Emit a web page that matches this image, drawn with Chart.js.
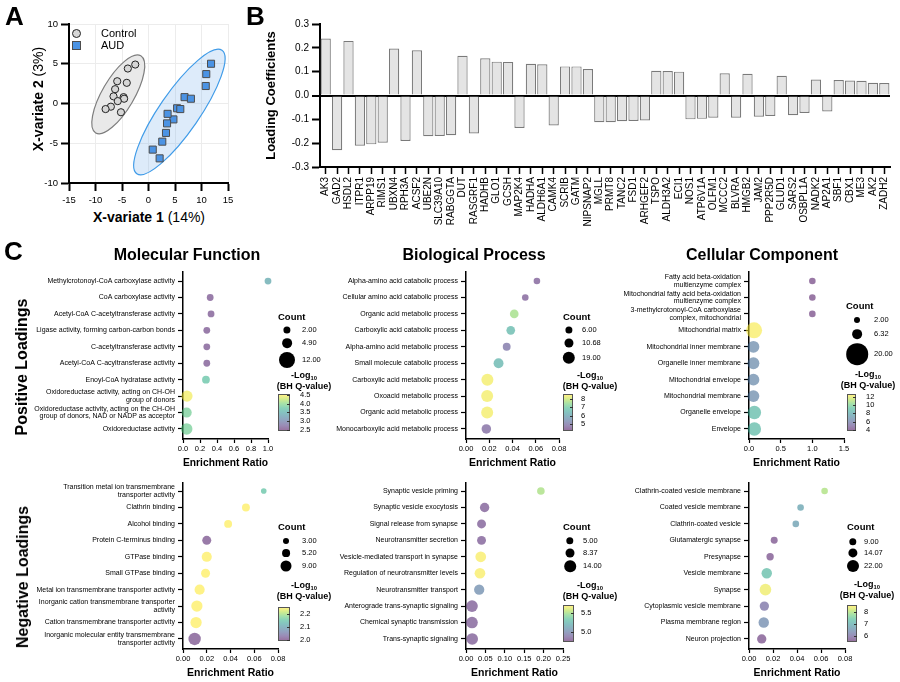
<!DOCTYPE html>
<html>
<head>
<meta charset="utf-8">
<title>PLS-DA loadings and GO enrichment</title>
<script src="https://cdn.jsdelivr.net/npm/chart.js@4.4.1/dist/chart.umd.min.js"></script>
<style>
  body { margin: 0; background: #fff; }
  #page { position: relative; width: 900px; height: 682px; overflow: hidden;
          font-family: 'Liberation Sans', Arial, sans-serif; color: #000; }
  #page canvas { position: absolute; }
  .t { position: absolute; white-space: nowrap; line-height: 1; }
  .t sub { font-size: 65%; vertical-align: -2px; line-height: 0; }
  .dot { position: absolute; border-radius: 50%; background: #000; transform: translate(-50%, -50%); }
  .cbar { position: absolute; box-sizing: border-box; border: 1px solid #555; }
  .ctick { position: absolute; height: 1px; width: 3px; background: #333; }
</style>
</head>
<body>
<div id="page"></div>
<script>
// ---------- Panel A: PLS-DA scores ----------
const controlX = [-2.5, -3.9, -4.1, -5.9, -6.3, -6.6, -4.7, -4.6, -5.8, -7.1, -8.1, -5.2];
const controlY = [4.9, 4.4, 2.6, 2.8, 1.8, 0.9, 0.8, 0.6, 0.3, -0.4, -0.7, -1.1];
const audX = [11.8, 10.9, 10.8, 6.8, 8.0, 5.4, 6.0, 4.7, 3.6, 3.5, 3.3, 2.6, 0.8, 2.1];
const audY = [5.0, 3.7, 2.2, 0.8, 0.6, -0.6, -0.7, -2.0, -1.3, -2.5, -3.7, -4.8, -5.8, -6.9];

// ---------- Panel B: loading coefficients ----------
const genes = ['AK3', 'GAD2', 'HSDL2', 'ITPR1', 'ARPP19', 'RIMS1', 'UBXN4', 'RPH3A', 'ACSF2', 'UBE2N',
  'SLC39A10', 'RABGGTA', 'DUT', 'RASGRF1', 'HADHB', 'GLO1', 'GCSH', 'MAP2K4', 'HADHA', 'ALDH6A1',
  'CAMK4', 'SCRIB', 'GATM', 'NIPSNAP2', 'MGLL', 'PRMT8', 'TANC2', 'FSD1', 'ARHGEF2', 'TSPO',
  'ALDH3A2', 'ECI1', 'NOS1', 'ATP6V1A', 'OLFM1', 'MCCC2', 'BLVRA', 'HMGB2', 'JAM2', 'PPP2R5D',
  'GLUD1', 'SARS2', 'OSBPL1A', 'NADK2', 'AP2A1', 'SBF1', 'CBX1', 'ME3', 'AK2', 'ZADH2'];
const loadings = [0.239, -0.230, 0.229, -0.211, -0.205, -0.198, 0.197, -0.191, 0.190, -0.171,
  -0.170, -0.167, 0.167, -0.159, 0.156, 0.142, 0.141, -0.136, 0.133, 0.131,
  -0.126, 0.122, 0.122, 0.111, -0.112, -0.112, -0.108, -0.107, -0.105, 0.104,
  0.103, 0.100, -0.100, -0.098, -0.093, 0.093, -0.093, 0.091, -0.089, -0.086,
  0.083, -0.083, -0.073, 0.067, -0.067, 0.065, 0.063, 0.062, 0.053, 0.052];

// ---------- Panel C: enrichment (positive loadings) ----------
const mfPosTerms = ['Methylcrotonoyl-CoA carboxylase activity', 'CoA carboxylase activity',
  'Acetyl-CoA C-acetyltransferase activity', 'Ligase activity, forming carbon-carbon bonds',
  'C-acetyltransferase activity', 'Acetyl-CoA C-acyltransferase activity', 'Enoyl-CoA hydratase activity',
  'Oxidoreductase activity, acting on CH-OH\ngroup of donors',
  'Oxidoreductase activity, acting on the CH-OH\ngroup of donors, NAD or NADP as acceptor',
  'Oxidoreductase activity'];
const mfPosRatio = [1.0, 0.32, 0.33, 0.28, 0.28, 0.28, 0.27, 0.047, 0.043, 0.043];
const mfPosCount = [2, 2, 2, 2, 2, 2, 4, 11, 9, 12];
const mfPosLogQ = [3.4, 2.55, 2.55, 2.55, 2.55, 2.55, 3.75, 4.5, 3.9, 3.9];
const mfPosQRange = [2.44, 4.55];
const mfPosCountKeys = [2.00, 4.90, 12.00];
const mfPosQTicks = [4.5, 4.0, 3.5, 3.0, 2.5];

const bpPosTerms = ['Alpha-amino acid catabolic process', 'Cellular amino acid catabolic process',
  'Organic acid metabolic process', 'Carboxylic acid catabolic process', 'Alpha-amino acid metabolic process',
  'Small molecule catabolic process', 'Carboxylic acid metabolic process', 'Oxoacid metabolic process',
  'Organic acid metabolic process', 'Monocarboxylic acid metabolic process'];
const bpPosRatio = [0.061, 0.051, 0.0415, 0.0385, 0.035, 0.028, 0.0184, 0.0182, 0.0182, 0.0175];
const bpPosCount = [6, 6, 11, 11, 9, 14, 19, 19, 19, 13];
const bpPosLogQ = [4.5, 4.5, 7.7, 6.6, 4.9, 6.5, 8.5, 8.5, 8.5, 4.7];
const bpPosQRange = [4.2, 8.6];
const bpPosCountKeys = [6.00, 10.68, 19.00];
const bpPosQTicks = [8, 7, 6, 5];

const ccPosTerms = ['Fatty acid beta-oxidation\nmultienzyme complex',
  'Mitochondrial fatty acid beta-oxidation\nmultienzyme complex',
  '3-methylcrotonoyl-CoA carboxylase\ncomplex, mitochondrial', 'Mitochondrial matrix',
  'Mitochondrial inner membrane', 'Organelle inner membrane', 'Mitochondrial envelope',
  'Mitochondrial membrane', 'Organelle envelope', 'Envelope'];
const ccPosRatio = [1.0, 1.0, 1.0, 0.08, 0.07, 0.07, 0.07, 0.07, 0.085, 0.085];
const ccPosCount = [2, 2, 2, 20, 12, 12, 12, 12, 15, 15];
const ccPosLogQ = [4.0, 4.0, 4.0, 12.5, 6.5, 6.5, 6.5, 6.5, 8.8, 8.8];
const ccPosQRange = [3.8, 12.6];
const ccPosCountKeys = [2.00, 6.32, 20.00];
const ccPosQTicks = [12, 10, 8, 6, 4];

// ---------- Panel C: enrichment (negative loadings) ----------
const mfNegTerms = ['Transition metal ion transmembrane\ntransporter activity', 'Clathrin binding',
  'Alcohol binding', 'Protein C-terminus binding', 'GTPase binding', 'Small GTPase binding',
  'Metal ion transmembrane transporter activity', 'Inorganic cation transmembrane transporter\nactivity',
  'Cation transmembrane transporter activity', 'Inorganic molecular entity transmembrane\ntransporter activity'];
const mfNegRatio = [0.068, 0.053, 0.038, 0.020, 0.020, 0.019, 0.014, 0.0117, 0.011, 0.0098];
const mfNegCount = [3, 5, 5, 6, 7, 6, 7, 8, 8, 9];
const mfNegLogQ = [2.15, 2.25, 2.25, 2.0, 2.25, 2.25, 2.25, 2.25, 2.25, 2.0];
const mfNegQRange = [1.99, 2.25];
const mfNegCountKeys = [3.00, 5.20, 9.00];
const mfNegQTicks = [2.2, 2.1, 2.0];

const bpNegTerms = ['Synaptic vesicle priming', 'Synaptic vesicle exocytosis', 'Signal release from synapse',
  'Neurotransmitter secretion', 'Vesicle-mediated transport in synapse', 'Regulation of neurotransmitter levels',
  'Neurotransmitter transport', 'Anterograde trans-synaptic signaling', 'Chemical synaptic transmission',
  'Trans-synaptic signaling'];
const bpNegRatio = [0.193, 0.048, 0.040, 0.040, 0.038, 0.036, 0.034, 0.0155, 0.0155, 0.016];
const bpNegCount = [5, 9, 8, 8, 12, 12, 11, 14, 14, 14];
const bpNegLogQ = [5.53, 4.8, 4.8, 4.8, 5.7, 5.7, 5.03, 4.8, 4.8, 4.8];
const bpNegQRange = [4.74, 5.71];
const bpNegCountKeys = [5.00, 8.37, 14.00];
const bpNegQTicks = [5.5, 5.0];

const ccNegTerms = ['Clathrin-coated vesicle membrane', 'Coated vesicle membrane', 'Clathrin-coated vesicle',
  'Glutamatergic synapse', 'Presynapse', 'Vesicle membrane', 'Synapse', 'Cytoplasmic vesicle membrane',
  'Plasma membrane region', 'Neuron projection'];
const ccNegRatio = [0.063, 0.043, 0.039, 0.021, 0.0176, 0.0148, 0.0137, 0.0128, 0.0123, 0.0106];
const ccNegCount = [9, 9, 9, 10, 11, 19, 22, 16, 19, 16];
const ccNegLogQ = [8.05, 6.8, 6.7, 5.6, 5.6, 7.3, 8.5, 6.0, 6.4, 5.6];
const ccNegQRange = [5.5, 8.6];
const ccNegCountKeys = [9.00, 14.07, 22.00];
const ccNegQTicks = [8, 7, 6];

// ---------- helpers ----------
Chart.defaults.font.family = "'Liberation Sans', Arial, sans-serif";
Chart.defaults.color = '#000';
Chart.defaults.animation = false;
Chart.defaults.responsive = false;
Chart.defaults.plugins.legend.display = false;
Chart.defaults.plugins.tooltip.enabled = false;

const page = document.getElementById('page');

function makeCanvas(x, y, w, h) {
  const c = document.createElement('canvas');
  c.width = w; c.height = h;
  c.style.left = x + 'px'; c.style.top = y + 'px';
  c.style.width = w + 'px'; c.style.height = h + 'px';
  page.appendChild(c);
  return c;
}

function text(html, x, y, o) {
  o = o || {};
  const el = document.createElement('div');
  el.className = 't';
  el.innerHTML = html;
  el.style.left = x + 'px';
  el.style.top = y + 'px';
  el.style.fontSize = (o.size || 10) + 'px';
  if (o.bold) el.style.fontWeight = 'bold';
  const ax = o.align === 'center' ? '-50%' : o.align === 'right' ? '-100%' : '0';
  el.style.transform = o.rotate ? 'translate(-50%, -50%) rotate(-90deg)' : `translate(${ax}, -50%)`;
  page.appendChild(el);
  return el;
}

const VIRIDIS = [[68, 1, 84], [71, 44, 122], [59, 81, 139], [44, 113, 142], [33, 144, 141],
  [39, 173, 129], [92, 200, 99], [170, 220, 50], [253, 231, 37]];
const ALPHA = 0.55;
function viridis(t) {
  t = Math.max(0, Math.min(1, t));
  const s = t * (VIRIDIS.length - 1);
  const i = Math.min(VIRIDIS.length - 2, Math.floor(s));
  const f = s - i;
  const c = VIRIDIS[i].map((v, j) => Math.round(v + (VIRIDIS[i + 1][j] - v) * f));
  return `rgba(${c[0]},${c[1]},${c[2]},${ALPHA})`;
}

// ---------- Panel A ----------
const ellipses = [
  { from: [-9.96, -3.7], to: [-1.45, 6.0], minor: 16, fill: '#e9e9e9', stroke: '#7d7d7d' },
  { from: [-2.2, -8.83], to: [13.86, 6.69], minor: 20, fill: 'rgba(120,175,235,0.25)', stroke: '#3f9be8' }
];
const ellipsePlugin = {
  id: 'ellipses',
  beforeDatasetsDraw(chart) {
    const { ctx, scales: { x, y } } = chart;
    ellipses.forEach(e => {
      const x1 = x.getPixelForValue(e.from[0]), y1 = y.getPixelForValue(e.from[1]);
      const x2 = x.getPixelForValue(e.to[0]), y2 = y.getPixelForValue(e.to[1]);
      ctx.save();
      ctx.beginPath();
      ctx.ellipse((x1 + x2) / 2, (y1 + y2) / 2, Math.hypot(x2 - x1, y2 - y1) / 2, e.minor,
        Math.atan2(y2 - y1, x2 - x1), 0, Math.PI * 2);
      ctx.fillStyle = e.fill; ctx.fill();
      ctx.lineWidth = 1.2; ctx.strokeStyle = e.stroke; ctx.stroke();
      ctx.restore();
    });
  }
};

new Chart(makeCanvas(40, 14, 198, 194), {
  type: 'scatter',
  data: {
    datasets: [
      { data: controlX.map((v, i) => ({ x: v, y: controlY[i] })), pointStyle: 'circle', radius: 3.6,
        backgroundColor: '#d6d6d6', borderColor: '#222', borderWidth: 1 },
      { data: audX.map((v, i) => ({ x: v, y: audY[i] })), pointStyle: 'rect', radius: 5,
        backgroundColor: '#4b93e4', borderColor: '#4d4d4d', borderWidth: 1 }
    ]
  },
  options: {
    layout: { padding: { top: 10, right: 10 } },
    scales: {
      x: { type: 'linear', min: -15, max: 15, ticks: { stepSize: 5, font: { size: 9.5 }, padding: 4 },
           grid: { color: '#ececec', tickColor: '#000', tickLength: 8, tickWidth: 2 },
           border: { color: '#000', width: 2 }, afterFit: s => { s.height = 25; } },
      y: { min: -10, max: 10, ticks: { stepSize: 5, font: { size: 9.5 }, padding: 3 },
           grid: { color: '#ececec', tickColor: '#000', tickLength: 8, tickWidth: 2 },
           border: { color: '#000', width: 2 }, afterFit: s => { s.width = 29; } }
    }
  },
  plugins: [ellipsePlugin]
});

// legend of panel A
const lc = document.createElement('div');
lc.style.cssText = 'position:absolute;left:72px;top:29px;width:7px;height:7px;border-radius:50%;background:#d6d6d6;border:1px solid #222;';
page.appendChild(lc);
const ls = document.createElement('div');
ls.style.cssText = 'position:absolute;left:72px;top:41px;width:7px;height:7px;background:#4b93e4;border:1px solid #4d4d4d;';
page.appendChild(ls);
text('Control', 101, 33, { size: 11 });
text('AUD', 101, 45, { size: 11 });
text('<b>X-variate 2</b> (3%)', 38, 99, { size: 14, rotate: true });
text('<b>X-variate 1</b> (14%)', 149, 217, { size: 14, align: 'center' });

// ---------- Panel B ----------
const isZero = v => Math.abs(v) < 1e-9;
new Chart(makeCanvas(262, 14, 638, 236), {
  type: 'bar',
  data: {
    labels: genes,
    datasets: [{ data: loadings, backgroundColor: '#e4e4e4', borderColor: '#7a7a7a', borderWidth: 1.2,
                 categoryPercentage: 0.9, barPercentage: 1 }]
  },
  options: {
    layout: { padding: { top: 10, right: 10 } },
    scales: {
      x: { ticks: { autoSkip: false, minRotation: 90, maxRotation: 90, font: { size: 10 }, padding: 3 },
           grid: { offset: false, drawOnChartArea: false, tickColor: '#000', tickLength: 7, tickWidth: 1.5 },
           border: { color: '#000', width: 2 }, afterFit: s => { s.height = 83; } },
      y: { min: -0.3, max: 0.3,
           ticks: { stepSize: 0.1, font: { size: 10 }, padding: 3, callback: v => (isZero(v) ? 0 : v).toFixed(1) },
           grid: { color: c => isZero(c.tick.value) ? '#000' : 'rgba(0,0,0,0)',
                   lineWidth: c => isZero(c.tick.value) ? 2 : 1,
                   tickColor: '#000', tickLength: 8, tickWidth: 2 },
           border: { color: '#000', width: 2 },
           title: { display: true, text: 'Loading Coefficients', font: { size: 13, weight: 'bold' },
                    padding: { top: 2, bottom: 0 } },
           afterFit: s => { s.width = 58; } }
    }
  }
});

// ---------- Panel C ----------
function enrichment(terms, ratio, count, logq, qRange, countKeys, qTicks, L) {
  const [cMin, cMax] = [countKeys[0], countKeys[2]];
  const size = (c, r0, r1) => r0 + (r1 - r0) * (c - cMin) / (cMax - cMin);
  const p = L.plot;
  const cl = p.left, ct = p.t - 12, cr = p.r + 12, cb = p.b + 30;
  new Chart(makeCanvas(cl, ct, cr - cl, cb - ct), {
    type: 'bubble',
    data: {
      datasets: [{
        data: terms.map((t, i) => ({ x: ratio[i], y: i, r: size(count[i], L.rMin, L.rMax) })),
        backgroundColor: logq.map(q => viridis((q - qRange[0]) / (qRange[1] - qRange[0]))),
        borderWidth: 0, clip: false
      }]
    },
    options: {
      layout: { padding: { top: 12, right: 12 } },
      scales: {
        x: { type: 'linear', min: 0, max: L.xMax,
             ticks: { stepSize: L.xStep, font: { size: 7.5 }, padding: 1, autoSkip: false,
                      minRotation: 0, maxRotation: 0, callback: v => v.toFixed(L.digits) },
             grid: { drawOnChartArea: false, tickColor: '#000', tickLength: 4, tickWidth: 1.2 },
             border: { color: '#000', width: 1.5 },
             title: { display: true, text: 'Enrichment Ratio', font: { size: 10.5, weight: 'bold' }, padding: 0 },
             afterFit: s => { s.height = 30; } },
        y: { type: 'linear', reverse: true, min: L.yMin, max: 9.61,
             afterBuildTicks: s => { s.ticks = terms.map((t, i) => ({ value: i })); },
             ticks: { font: { size: 7, lineHeight: 1.1 }, padding: 3,
                      callback: v => terms[v] ? terms[v].split('\n') : '' },
             grid: { drawOnChartArea: false, tickColor: '#000', tickLength: 5, tickWidth: 1.2 },
             border: { color: '#000', width: 1.5 },
             afterFit: s => { s.width = p.l - p.left; } }
      }
    }
  });

  // count legend
  const g = L.leg;
  text('Count', g.countX, g.countY, { size: 9.5, bold: true });
  countKeys.forEach((c, i) => {
    const r = size(c, L.lrMin, L.lrMax);
    const d = document.createElement('div');
    d.className = 'dot';
    d.style.left = g.circX + 'px'; d.style.top = g.circY[i] + 'px';
    d.style.width = 2 * r + 'px'; d.style.height = 2 * r + 'px';
    page.appendChild(d);
    text(c.toFixed(2), g.labX, g.circY[i], { size: 7.5 });
  });
  // colour legend
  text('-Log<sub>10</sub>', g.logX, g.logY, { size: 9, bold: true, align: 'center' });
  text('(BH Q-value)', g.logX, g.logY + 11, { size: 9, bold: true, align: 'center' });
  const bar = document.createElement('div');
  bar.className = 'cbar';
  bar.style.left = g.barX + 'px'; bar.style.top = g.barY + 'px';
  bar.style.width = g.barW + 'px'; bar.style.height = g.barH + 'px';
  bar.style.background = 'linear-gradient(to top, ' +
    VIRIDIS.map((c, i) => `rgba(${c[0]},${c[1]},${c[2]},${ALPHA}) ${(i / (VIRIDIS.length - 1) * 100).toFixed(1)}%`).join(', ') + ')';
  page.appendChild(bar);
  qTicks.forEach(q => {
    const y = g.barY + g.barH * (qRange[1] - q) / (qRange[1] - qRange[0]);
    const tk = document.createElement('div');
    tk.className = 'ctick';
    tk.style.left = (g.barX + g.barW - 3) + 'px'; tk.style.top = Math.round(y) + 'px';
    page.appendChild(tk);
    text(q.toFixed(L.qDigits), g.tickX, y, { size: 7.5 });
  });
}

enrichment(mfPosTerms, mfPosRatio, mfPosCount, mfPosLogQ, mfPosQRange, mfPosCountKeys, mfPosQTicks, {
  plot: { l: 183, r: 268, t: 272, b: 439, left: 30 }, yMin: -0.55, xMax: 1.0, xStep: 0.2, digits: 1, qDigits: 1,
  rMin: 3.4, rMax: 5.8, lrMin: 3.6, lrMax: 8,
  leg: { countX: 278, countY: 317, circX: 287, circY: [330, 343, 360], labX: 302, logX: 304, logY: 375,
         barX: 278, barY: 394, barW: 12, barH: 37, tickX: 300 }
});
enrichment(bpPosTerms, bpPosRatio, bpPosCount, bpPosLogQ, bpPosQRange, bpPosCountKeys, bpPosQTicks, {
  plot: { l: 466, r: 559, t: 272, b: 439, left: 330 }, yMin: -0.55, xMax: 0.08, xStep: 0.02, digits: 2, qDigits: 0,
  rMin: 3.3, rMax: 6.0, lrMin: 3.6, lrMax: 6.2,
  leg: { countX: 563, countY: 317, circX: 569, circY: [330, 343, 358], labX: 582, logX: 590, logY: 375,
         barX: 563, barY: 394, barW: 10, barH: 37, tickX: 581 }
});
enrichment(ccPosTerms, ccPosRatio, ccPosCount, ccPosLogQ, ccPosQRange, ccPosCountKeys, ccPosQTicks, {
  plot: { l: 749, r: 844, t: 272, b: 439, left: 615 }, yMin: -0.55, xMax: 1.5, xStep: 0.5, digits: 1, qDigits: 0,
  rMin: 3.3, rMax: 8.0, lrMin: 3.0, lrMax: 10.8,
  leg: { countX: 846, countY: 306, circX: 857, circY: [320, 334, 354], labX: 874, logX: 868, logY: 374,
         barX: 847, barY: 394, barW: 9, barH: 37, tickX: 866 }
});
enrichment(mfNegTerms, mfNegRatio, mfNegCount, mfNegLogQ, mfNegQRange, mfNegCountKeys, mfNegQTicks, {
  plot: { l: 183, r: 278, t: 483, b: 649, left: 30 }, yMin: -0.49, xMax: 0.08, xStep: 0.02, digits: 2, qDigits: 1,
  rMin: 2.8, rMax: 6.2, lrMin: 3.0, lrMax: 5.5,
  leg: { countX: 278, countY: 527, circX: 286, circY: [541, 553, 566], labX: 302, logX: 304, logY: 585,
         barX: 278, barY: 607, barW: 12, barH: 34, tickX: 300 }
});
enrichment(bpNegTerms, bpNegRatio, bpNegCount, bpNegLogQ, bpNegQRange, bpNegCountKeys, bpNegQTicks, {
  plot: { l: 466, r: 563, t: 483, b: 649, left: 330 }, yMin: -0.49, xMax: 0.25, xStep: 0.05, digits: 2, qDigits: 1,
  rMin: 3.8, rMax: 5.8, lrMin: 3.7, lrMax: 5.8,
  leg: { countX: 563, countY: 527, circX: 570, circY: [541, 553, 566], labX: 583, logX: 590, logY: 585,
         barX: 563, barY: 605, barW: 11, barH: 37, tickX: 581 }
});
enrichment(ccNegTerms, ccNegRatio, ccNegCount, ccNegLogQ, ccNegQRange, ccNegCountKeys, ccNegQTicks, {
  plot: { l: 749, r: 845, t: 483, b: 649, left: 615 }, yMin: -0.49, xMax: 0.08, xStep: 0.02, digits: 2, qDigits: 0,
  rMin: 3.3, rMax: 5.8, lrMin: 3.7, lrMax: 6.0,
  leg: { countX: 847, countY: 527, circX: 853, circY: [542, 553, 566], labX: 864, logX: 867, logY: 584,
         barX: 847, barY: 605, barW: 10, barH: 37, tickX: 864 }
});

// ---------- headings ----------
text('A', 5, 16, { size: 26, bold: true });
text('B', 246, 16, { size: 26, bold: true });
text('C', 4, 251, { size: 26, bold: true });
text('Molecular Function', 187, 255, { size: 16, bold: true, align: 'center' });
text('Biological Process', 474, 255, { size: 16, bold: true, align: 'center' });
text('Cellular Component', 762, 255, { size: 16, bold: true, align: 'center' });
text('Positive Loadings', 22, 367, { size: 16, bold: true, rotate: true });
text('Negative Loadings', 23, 577, { size: 16, bold: true, rotate: true });
</script>
</body>
</html>
